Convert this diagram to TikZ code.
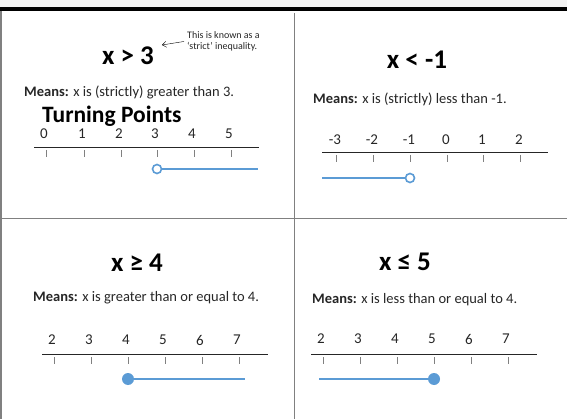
\documentclass[tikz,border=0pt]{standalone}
\usepackage{fontspec}
\setmainfont{Carlito}
\usetikzlibrary{arrows.meta, positioning}

\definecolor{inkgrey}{HTML}{262626}
\definecolor{rulegrey}{HTML}{808080}
\definecolor{bandgrey}{HTML}{F2F2F2}
\definecolor{rayblue}{HTML}{5B9BD5}

\begin{document}
\begin{tikzpicture}[
    x=1pt, y=-1pt,
    title/.style={font=\fontsize{27}{27}\selectfont\bfseries, text=black, inner sep=1pt},
    means/.style={anchor=west, font=\fontsize{14.5}{14.5}\selectfont, text=inkgrey, inner sep=0pt},
    numlab/.style={font=\fontsize{15}{15}\selectfont, text=inkgrey, inner sep=0pt},
    axis/.style={draw=inkgrey, line width=0.9pt},
    tickmark/.style={draw=rulegrey, line width=0.8pt},
    ray/.style={draw=rayblue, line width=1.2pt},
    opendot/.style={circle, draw=rayblue, fill=white, line width=1.6pt, minimum size=9pt, inner sep=0pt},
    shutdot/.style={circle, fill=rayblue, minimum size=12pt, inner sep=0pt},
    frame/.style={draw=rulegrey, line width=1.4pt},
]
\useasboundingbox (0,0) rectangle (567,419);

% page frame
\fill[bandgrey] (0,0) rectangle (567,7);
\fill[black] (0,7) rectangle (567,11);
\draw[frame] (0.8,11) -- (0.8,419);
\draw[frame] (294.5,13) -- (294.5,419);
\draw[frame] (0,218.5) -- (567,218.5);

% top left: x > 3
\node[title] (gt) at (128,56) {x > 3};
\node[anchor=west, align=left, inner sep=0pt, font=\fontsize{10}{11}\selectfont, text=inkgrey] (note) at (187,41) {This is known as a\\‘strict’ inequality.};
\coordinate (notehead) at (162,45);
\draw[-{Straight Barb[length=4pt, width=6pt]}, thin, shorten <=3pt] (note.west) -- (notehead);
\node[means] (gtmeans) at (24,92) {\textbf{Means:} x is (strictly) greater than 3.};
\node[anchor=west, font=\fontsize{23.5}{23.5}\selectfont\bfseries, text=black, inner sep=0pt] (turn) at (42,116) {Turning Points};
\draw[axis] (34,147) -- (259,147);
\foreach \x/\n in {46/0, 84/1, 121/2, 157/3, 194/4, 231/5} {
    \node[numlab] at (\x-2,134) {\n};
    \draw[tickmark] (\x,150) -- (\x,157);
}
\node[opendot] (gtdot) at (157,169) {};
\coordinate (gtend) at (258,169);
\draw[ray] (gtdot) -- (gtend);

% top right: x < -1
\node[title] (lt) at (417,60) {x < -1};
\node[means] (ltmeans) at (313,99) {\textbf{Means:} x is (strictly) less than -1.};
\draw[axis] (322,152) -- (548,152);
\foreach \x/\n in {336/-3, 373/-2, 410/-1, 447/0, 483/1, 520/2} {
    \node[numlab] at (\x-1,140) {\n};
    \draw[tickmark] (\x,155) -- (\x,162);
}
\node[opendot] (ltdot) at (410,178) {};
\coordinate (ltend) at (322,178);
\draw[ray] (ltdot) -- (ltend);

% bottom left: x >= 4
\node[title] (ge) at (137,263) {x ≥ 4};
\node[means] (gemeans) at (33,298) {\textbf{Means:} x is greater than or equal to 4.};
\draw[axis] (42,354) -- (268,354);
\foreach \x/\n in {54/2, 91/3, 128/4, 165/5, 202/6, 239/7} {
    \node[numlab] at (\x-2,340) {\n};
    \draw[tickmark] (\x,357) -- (\x,364);
}
\node[shutdot] (gedot) at (128,379) {};
\coordinate (geend) at (245,379);
\draw[ray] (gedot) -- (geend);

% bottom right: x <= 5
\node[title] (le) at (405,262) {x ≤ 5};
\node[means] (lemeans) at (312,300) {\textbf{Means:} x is less than or equal to 4.};
\draw[axis] (311,354) -- (537,354);
\foreach \x/\n in {323/2, 360/3, 397/4, 434/5, 471/6, 508/7} {
    \node[numlab] at (\x-2,339) {\n};
    \draw[tickmark] (\x,357) -- (\x,364);
}
\node[shutdot] (ledot) at (434,379) {};
\coordinate (leend) at (319,379);
\draw[ray] (ledot) -- (leend);

\end{tikzpicture}
\end{document}
